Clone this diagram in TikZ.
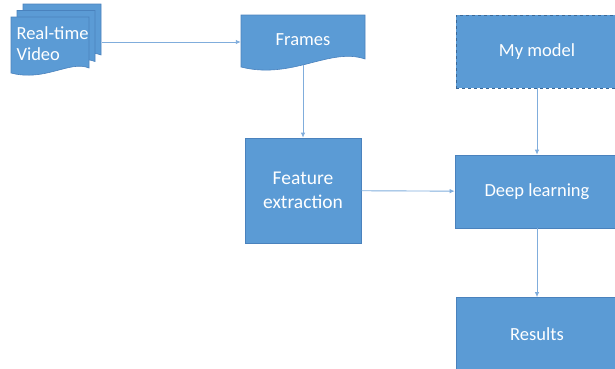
\documentclass[tikz,border=0pt]{standalone}
\usepackage{fontspec}
\setmainfont{Carlito}
\usetikzlibrary{arrows.meta}
\definecolor{boxblue}{HTML}{5B9BD5}
\definecolor{edgeblue}{HTML}{4A82BD}
\definecolor{lineblue}{HTML}{80ADDC}
\tikzset{
  box/.style={draw=edgeblue, line width=0.6pt, fill=boxblue, text=white, align=center, font=\fontsize{18.5}{23}\selectfont},
  page/.style={draw=edgeblue, line width=0.6pt, fill=boxblue},
  label/.style={text=white, align=center, font=\fontsize{18.5}{21}\selectfont},
  link/.style={draw=lineblue, line width=0.9pt, -{Latex[length=5pt,width=4.5pt]}}
}
\begin{document}
\begin{tikzpicture}[x=1pt, y=-1pt]
\useasboundingbox (0,0) rectangle (615,368);
% stacked pages
\foreach \dx/\dy in {12/-13, 6/-6.5, 0/0}
  \draw[page, shift={(\dx,\dy)}] (11,17) -- (89,17) -- (89,68) .. controls (70,60) and (45,82) .. (11,73) -- cycle;
\node[label, align=left, anchor=west] (video) at (13,44) {Real-time\\Video};
\coordinate (vidout) at (102,42);
% frames page
\draw[page] (241,15) -- (365,15) -- (365,59) .. controls (330,47) and (292,80) .. (241,67) -- cycle;
\node[label, minimum width=124pt, minimum height=50pt] (frames) at (303,40) {Frames};
\node[box, minimum width=116pt, minimum height=105pt, font=\fontsize{19.5}{24}\selectfont] (feature) at (303,190.5) {Feature\\extraction};
\node[box, dashed, draw=edgeblue!80!black, minimum width=162pt, minimum height=73pt] (model) at (537,51.5) {My model};
\node[box, minimum width=164pt, minimum height=73pt] (deep) at (537,191.5) {Deep learning};
\node[box, minimum width=162pt, minimum height=73pt] (results) at (537,334) {Results};
\draw[link] (vidout) -- (vidout -| frames.west);
\draw[link] (frames.south) -- (feature);
\draw[link] (feature) -- (deep);
\draw[link] (model) -- (deep);
\draw[link] (deep) -- (results);
\end{tikzpicture}
\end{document}
